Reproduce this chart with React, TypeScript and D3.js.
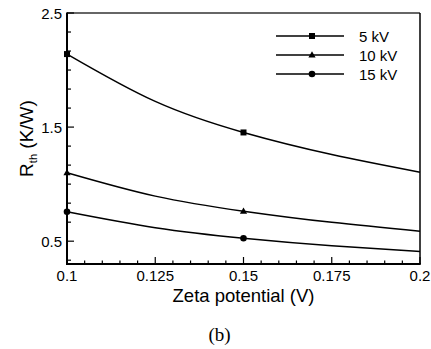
import React from "react";
import * as d3 from "d3";

const xValues = [0.1, 0.125, 0.15, 0.175, 0.2];
const series5kV = [2.14, 1.725, 1.453, 1.26, 1.105];
const series10kV = [1.1, 0.895, 0.763, 0.665, 0.588];
const series15kV = [0.757, 0.618, 0.526, 0.46, 0.41];
const seriesNames = ["5 kV", "10 kV", "15 kV"];
const markerX = [0.1, 0.15];
const xTickLabels = ["0.1", "0.125", "0.15", "0.175", "0.2"];
const yTickLabels = ["0.5", "1.5", "2.5"];

const W = 431, H = 349;
const L = 67, R = 420, T = 13, B = 264;

export default function App() {
  const x = d3.scaleLinear().domain([0.1, 0.2]).range([L, R]);
  const y = d3.scaleLinear().domain([0.3, 2.5]).range([B, T]);
  const line = d3
    .line<[number, number]>()
    .x((d) => x(d[0]))
    .y((d) => y(d[1]))
    .curve(d3.curveNatural);

  const all = [series5kV, series10kV, series15kV];
  const shapes = ["square", "triangle", "circle"];

  const marker = (shape: string, cx: number, cy: number, key: string) => {
    if (shape === "square")
      return <rect key={key} x={cx - 3} y={cy - 3} width={6} height={6} fill="#000" />;
    if (shape === "triangle")
      return (
        <path
          key={key}
          d={`M${cx},${cy - 3.8} L${cx + 3.6},${cy + 2.6} L${cx - 3.6},${cy + 2.6} Z`}
          fill="#000"
        />
      );
    return <circle key={key} cx={cx} cy={cy} r={3.3} fill="#000" />;
  };

  const xMinor = d3.range(0, 21).map((i) => 0.1 + i * 0.005);
  const yMinor = d3.range(0, 14).map((i) => 0.5 + (i - 1) * (1 / 6)).filter((v) => v >= 0.3 && v <= 2.5001);
  const xMajor = xTickLabels.map(Number);
  const yMajor = yTickLabels.map(Number);

  const font = "'Liberation Sans', Arial, sans-serif";

  return (
    <div style={{ position: "absolute", left: 0, top: 0 }}>
      <svg width={W} height={H} style={{ display: "block", background: "#fff" }}>
        <rect x={0} y={0} width={W} height={H} fill="#fff" />
        {all.map((s, i) => (
          <path
            key={"l" + i}
            d={line(xValues.map((xv, j) => [xv, s[j]] as [number, number])) || ""}
            fill="none"
            stroke="#000"
            strokeWidth={1.5}
          />
        ))}
        <line x1={L} y1={T} x2={R} y2={T} stroke="#333" strokeWidth={1.5} />
        <line x1={R} y1={T} x2={R} y2={B} stroke="#000" strokeWidth={1.5} />
        <line x1={L} y1={T - 0.5} x2={L} y2={B + 1} stroke="#000" strokeWidth={2} />
        <line x1={L - 1} y1={B} x2={R + 0.75} y2={B} stroke="#000" strokeWidth={2} />
        {xMinor.map((v, i) => {
          const major = xMajor.some((m) => Math.abs(m - v) < 1e-6);
          return (
            <line key={"xt" + i} x1={x(v)} x2={x(v)} y1={B} y2={B - (major ? 7 : 3.5)} stroke="#000" strokeWidth={1.2} />
          );
        })}
        {yMinor.map((v, i) => {
          const major = yMajor.some((m) => Math.abs(m - v) < 1e-6);
          return (
            <line key={"yt" + i} y1={y(v)} y2={y(v)} x1={L} x2={L + (major ? 7 : 4)} stroke="#000" strokeWidth={1.2} />
          );
        })}
        {xTickLabels.map((t, i) => (
          <text key={"xl" + i} x={x(Number(t))} y={281} textAnchor="middle" fontFamily={font} fontSize={15} fill="#000">
            {t}
          </text>
        ))}
        {yTickLabels.map((t, i) => (
          <text key={"yl" + i} x={62} y={y(Number(t)) + 5.5} textAnchor="end" fontFamily={font} fontSize={15} fill="#000">
            {t}
          </text>
        ))}
        {all.map((s, i) =>
          markerX.map((mx, k) => {
            const j = xValues.indexOf(mx);
            return marker(shapes[i], x(mx), y(s[j]), `m${i}-${k}`);
          })
        )}
        {seriesNames.map((n, i) => {
          const ly = 36 + i * 19;
          return (
            <g key={"lg" + i}>
              <line x1={276} x2={344} y1={ly} y2={ly} stroke="#000" strokeWidth={1.3} />
              {marker(shapes[i], 312, ly, "lm" + i)}
              <text x={359} y={ly + 5.5} fontFamily={font} fontSize={15} fill="#000">
                {n}
              </text>
            </g>
          );
        })}
        <text x={(L + R) / 2} y={302} textAnchor="middle" fontFamily={font} fontSize={18.5} fill="#000">
          Zeta potential (V)
        </text>
        <text
          transform={`translate(33, ${(T + B) / 2}) rotate(-90)`}
          textAnchor="middle"
          fontFamily={font}
          fontSize={19}
          fill="#000"
        >
          R<tspan fontSize={11} dy={4}>th</tspan>
          <tspan dy={-4}> (K/W)</tspan>
        </text>
        <text x={219.5} y={341} textAnchor="middle" fontFamily="'Liberation Serif', 'Times New Roman', serif" fontSize={19} fill="#000">
          (b)
        </text>
      </svg>
    </div>
  );
}
